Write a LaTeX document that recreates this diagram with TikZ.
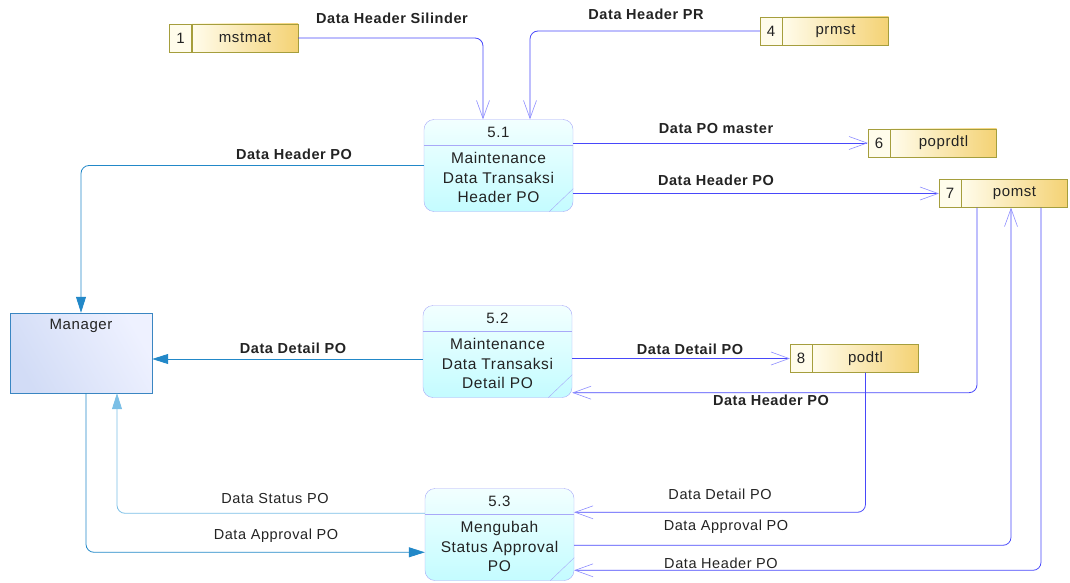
\documentclass[tikz,border=0pt]{standalone}
\usepackage{fontspec}
\setmainfont[LetterSpace=4]{Liberation Sans}
\usetikzlibrary{
		arrows.meta,
		calc,
		positioning
	}
\definecolor{procedge}{RGB}{168,168,248}
\definecolor{proctop}{RGB}{242,255,255}
\definecolor{procbot}{RGB}{196,252,255}
\definecolor{storeedge}{RGB}{165,158,61}
\definecolor{storegold}{RGB}{244,210,116}
\definecolor{storecream}{RGB}{255,252,235}
\definecolor{mgredge}{RGB}{58,134,194}
\definecolor{mgrleft}{RGB}{210,220,246}
\definecolor{mgrright}{RGB}{238,241,255}
\definecolor{flowblue}{RGB}{72,72,250}
\definecolor{barbblue}{RGB}{140,140,255}
\definecolor{mgrblue}{RGB}{34,136,200}
\definecolor{statusblue}{RGB}{123,191,230}
\definecolor{txtgray}{RGB}{35,35,35}
\tikzset{
		>=stealth,
		proc/.style={draw=procedge, rounded corners=10pt, top color=proctop,
			bottom color=procbot, minimum width=149pt, minimum height=92pt, inner sep=0pt},
		procline/.style={draw=procedge},
		pnum/.style={text=txtgray, font=\fontsize{15}{18}\selectfont},
		ptext/.style={text=txtgray, align=center, font=\fontsize{15.5}{19.5}\selectfont},
		storebody/.style={draw=storeedge, left color=storecream, right color=storegold,
			minimum width=106pt, minimum height=28pt, inner sep=0pt, text=txtgray,
			font=\fontsize{15}{17}\selectfont},
		storenum/.style={draw=storeedge, fill=storecream, minimum width=22pt,
			minimum height=28pt, inner sep=0pt, text=txtgray, font=\fontsize{15}{17}\selectfont},
		extent/.style={draw=mgredge, left color=mgrleft, right color=mgrright,
			shading angle=120, minimum width=142pt, minimum height=80pt, inner sep=0pt},
		storeflow/.style={draw=flowblue, line width=0.8pt, rounded corners=8pt,
			-{Straight Barb[length=18pt,width=13pt,line width=0.6pt,color=barbblue]}},
		mgrflow/.style={draw=mgrblue, line width=0.8pt, rounded corners=8pt,
			-{Triangle[length=16pt,width=10pt]}},
		statusflow/.style={mgrflow, draw=statusblue},
		flowlbl/.style={text=txtgray, font=\fontsize{14.5}{17}\selectfont\bfseries},
		flowlbllight/.style={text=txtgray, font=\fontsize{14.5}{17}\selectfont}
	}
\begin{document}
\begin{tikzpicture}[x=1pt, y=-1pt]
        \useasboundingbox (0,0) rectangle (1070,583);

        % the processes
        \node[proc] (p51) at (498.5,165.5) {};
        \node[proc] (p52) at (497.5,351.5) {};
        \node[proc] (p53) at (499.5,534.5) {};
        \foreach \p in {p51,p52,p53} {
            \draw[procline] ([yshift=-26pt]\p.north west) -- ([yshift=-26pt]\p.north east);
            \draw[procline] ([xshift=-24pt]\p.south east) -- ([yshift=23pt]\p.south east);
        }
        \node[pnum] (p51num) at ([yshift=-13pt]p51.north) {5.1};
        \node[pnum] (p52num) at ([yshift=-13pt]p52.north) {5.2};
        \node[pnum] (p53num) at ([yshift=-13pt]p53.north) {5.3};
        \node[ptext] (p51txt) at ([yshift=-12pt]p51.center) {Maintenance\\Data Transaksi\\Header PO};
        \node[ptext] (p52txt) at ([yshift=-12pt]p52.center) {Maintenance\\Data Transaksi\\Detail PO};
        \node[ptext] (p53txt) at ([yshift=-12pt]p53.center) {Mengubah\\Status Approval\\PO};

        % the external entity
        \node[extent] (mgr) at (81,353) {};
        \node[pnum] (mgrtxt) at ([yshift=-13pt]mgr.north) {Manager};

        % the data stores (body first, then the number cell on its left)
        \node[storebody] (mstmat) at (245,38) {mstmat};
        \node[storenum, left=0pt of mstmat] (mstmatnum) {1};
        \node[storebody] (prmst) at (835.5,31) {prmst};
        \node[storenum, left=0pt of prmst] (prmstnum) {4};
        \node[storebody] (poprdtl) at (943.5,143) {poprdtl};
        \node[storenum, left=0pt of poprdtl] (poprdtlnum) {6};
        \node[storebody] (pomst) at (1014.5,193.5) {pomst};
        \node[storenum, left=0pt of pomst] (pomstnum) {7};
        \node[storebody] (podtl) at (865.5,358.5) {podtl};
        \node[storenum, left=0pt of podtl] (podtlnum) {8};

        % the flows
        \coordinate (mgrin) at ([yshift=-6pt]mgr.east);
        \draw[storeflow] (mstmat.east) -| ([xshift=-15.5pt]p51.north);
        \draw[storeflow] (prmstnum.west) -| ([xshift=31.5pt]p51.north);
        \draw[storeflow] (p51.east |- poprdtlnum.west) -- (poprdtlnum.west);
        \draw[storeflow] (p51.east |- pomstnum.west) -- (pomstnum.west);
        \draw[mgrflow] (p51.west) -| (mgr.north);
        \draw[mgrflow] (p52.west |- mgrin) -- (mgrin);
        \draw[storeflow] (p52.east |- podtlnum.west) -- (podtlnum.west);
        \draw[storeflow] ([xshift=-37.5pt]pomst.south) |- ([yshift=5pt]p52.south east);
        \draw[storeflow] (podtl.south) |- ([yshift=-24pt]p53.north east);
        \draw[storeflow] ([yshift=-57pt]p53.north east) -| ([xshift=-3.5pt]pomst.south);
        \draw[storeflow] ([xshift=26.5pt]pomst.south) |- ([yshift=-82pt]p53.north east);
        \draw[statusflow] ([yshift=-25pt]p53.north west) -| ([xshift=36pt]mgr.south);
        \draw[mgrflow] ([xshift=5pt]mgr.south) |- ([yshift=-64pt]p53.north west);

        % the flow labels
        \node[flowlbl] (lsil) at (392,18) {Data Header Silinder};
        \node[flowlbl] (lpr) at (646,14) {Data Header PR};
        \node[flowlbl] (lmaster) at (716,129) {Data PO master};
        \node[flowlbl] (lhdr1) at (716,180) {Data Header PO};
        \node[flowlbl] (lhdr2) at (294,154) {Data Header PO};
        \node[flowlbl] (ldtl1) at (293,348) {Data Detail PO};
        \node[flowlbl] (ldtl2) at (690,349) {Data Detail PO};
        \node[flowlbl] (lhdr3) at (771,400) {Data Header PO};
        \node[flowlbllight] (lstatus) at (275,499) {Data Status PO};
        \node[flowlbllight] (lappr1) at (276,536) {Data Approval PO};
        \node[flowlbllight] (ldtl3) at (720,494) {Data Detail PO};
        \node[flowlbllight] (lappr2) at (726,527) {Data Approval PO};
        \node[flowlbllight] (lhdr4) at (721,563) {Data Header PO};

    \end{tikzpicture}
\end{document}
